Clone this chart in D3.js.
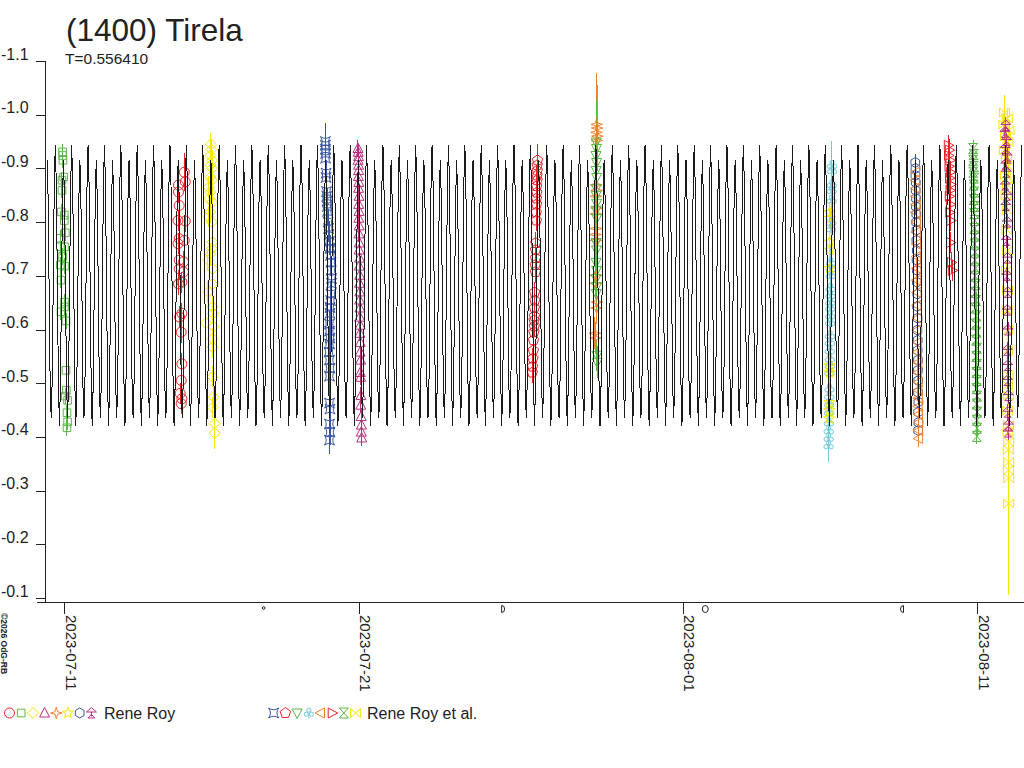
<!DOCTYPE html>
<html>
<head>
<meta charset="utf-8">
<script src="https://cdnjs.cloudflare.com/ajax/libs/d3/7.8.5/d3.min.js"></script>
<style>
body { margin: 0; background: #fff; }
svg { display: block; font-family: "Liberation Sans", Arial, sans-serif; }
</style>
</head>
<body>
<svg id="chart" width="1024" height="768"></svg>
<script>
'use strict'

const title = '(1400) Tirela'
const period = 0.556410            // days
const epoch = '2023-07-10T16:40Z'  // a brighter maximum of the fit
const curveStart = '2023-07-10T09:20Z'
const curveEnd = '2023-08-12T13:00Z'
// the fitted lightcurve over one rotation, 16 steps
const lcMag = [-0.944, -0.869, -0.689, -0.507, -0.420, -0.495, -0.668, -0.843,
               -0.915, -0.843, -0.668, -0.495, -0.435, -0.507, -0.689, -0.869]

const yTicks = [-1.1, -1.0, -0.9, -0.8, -0.7, -0.6, -0.5, -0.4, -0.3, -0.2, -0.1]
const xTicks = ['2023-07-11', '2023-07-21', '2023-08-01', '2023-08-11']
const moonDates = ['2023-07-17T18:32Z', '2023-07-25T22:07Z', '2023-08-01T18:31Z', '2023-08-08T10:28Z']
const moonPhases = ['new', 'first', 'full', 'last']
const observers = ['Rene Roy', 'Rene Roy et al.']

// [hours after session start, magnitude, (error)]
const n0710 = [[2.1,-0.931],[2.1,-0.924],[2.4,-0.915],[2.9,-0.884],[1.6,-0.878],[1.6,-0.859],[1.1,-0.819],[3.5,-0.813],[3.5,-0.803],[4.3,-0.780],[0.2,-0.770],[3.7,-0.754],[0.2,-0.754],[2.1,-0.736],[0.2,-0.720],[3.7,-0.718],[0.8,-0.692],[3.7,-0.651],[3.7,-0.642],[0.8,-0.633],[4.9,-0.616],[4.9,-0.524],[5.1,-0.487],[4.3,-0.476],[6.2,-0.468],[5.7,-0.445],[6.2,-0.428],[5.7,-0.417]]
const n0714 = [[5.8,-0.893,0.035],[6.6,-0.875],[1.1,-0.869],[1.1,-0.856],[1.7,-0.831],[0.7,-0.803],[6.6,-0.802],[1.7,-0.769],[5.8,-0.766],[0.7,-0.760],[1.7,-0.729],[5.2,-0.726],[1.7,-0.713],[5.2,-0.707],[3.9,-0.688],[1.1,-0.685],[3.9,-0.630],[2.0,-0.623],[3.3,-0.595],[3.9,-0.536],[3.3,-0.505],[2.5,-0.481],[3.9,-0.471],[3.3,-0.462]]
const n0715 = [[4.5,-0.945],[4.8,-0.935],[4.0,-0.924],[5.4,-0.915],[4.0,-0.906],[5.4,-0.900],[4.0,-0.884],[5.4,-0.878],[2.6,-0.865],[4.0,-0.856],[3.2,-0.844],[5.4,-0.837],[4.0,-0.819],[2.6,-0.810],[5.4,-0.800],[5.9,-0.763],[5.4,-0.751],[4.0,-0.741],[2.1,-0.729],[5.9,-0.713],[5.9,-0.685],[2.1,-0.670],[5.9,-0.642],[6.2,-0.630],[0.5,-0.612],[6.7,-0.605],[5.9,-0.583],[5.9,-0.567],[5.9,-0.512],[6.7,-0.474],[5.9,-0.455],[7.5,-0.425],[7.5,-0.407,0.03]]
const n0719 = [[0.8,-0.950,0.035],[0.8,-0.943],[0.9,-0.936],[1.0,-0.928],[1.0,-0.919],[1.4,-0.891],[1.4,-0.883],[1.8,-0.857],[2.0,-0.848],[2.2,-0.839],[2.4,-0.829],[2.6,-0.820],[3.0,-0.800],[3.4,-0.788],[3.8,-0.777],[4.2,-0.764],[4.6,-0.751],[5.0,-0.738],[5.4,-0.725],[5.6,-0.710],[5.8,-0.695],[5.8,-0.686],[5.4,-0.666],[5.0,-0.654],[4.6,-0.641],[4.6,-0.630],[4.2,-0.610],[4.2,-0.597],[4.6,-0.584],[4.2,-0.573],[3.8,-0.558],[4.2,-0.543],[4.6,-0.528],[4.2,-0.513],[4.2,-0.463],[4.6,-0.452],[4.2,-0.424],[4.6,-0.409],[4.2,-0.394]]
const n0720 = [[2.4,-0.937],[2.6,-0.930],[2.8,-0.922],[2.5,-0.915],[2.9,-0.906],[3.0,-0.896],[2.7,-0.885],[3.1,-0.874],[2.9,-0.863],[3.2,-0.848],[3.0,-0.833],[3.3,-0.820],[3.1,-0.807],[3.4,-0.793],[3.2,-0.778],[3.5,-0.761],[3.3,-0.748],[3.7,-0.733],[3.5,-0.718],[3.8,-0.701],[3.6,-0.686],[3.9,-0.670],[3.7,-0.655],[4.0,-0.640],[3.8,-0.623],[4.1,-0.608],[4.0,-0.593],[4.3,-0.576],[4.2,-0.558],[4.5,-0.543],[4.4,-0.520],[4.6,-0.511],[4.8,-0.477],[4.7,-0.459],[5.0,-0.438],[5.2,-0.422],[5.1,-0.409],[5.4,-0.398]]
const n0726 = [[5.2,-0.915,0.03],[5.0,-0.906],[5.1,-0.896],[4.8,-0.887],[4.9,-0.878],[4.6,-0.867],[4.7,-0.855],[4.4,-0.844],[4.5,-0.833],[4.2,-0.818],[4.3,-0.803],[3.8,-0.761],[3.6,-0.748],[3.7,-0.733],[3.4,-0.720],[3.5,-0.707],[2.9,-0.669],[3.0,-0.654],[2.7,-0.640],[2.8,-0.625],[2.5,-0.617],[2.6,-0.606],[2.3,-0.595],[2.0,-0.580],[1.8,-0.561],[1.5,-0.546],[1.2,-0.531],[1.0,-0.520]]
const n0728a = [[3.0,-0.982,0.095],[3.4,-0.975,0.08],[2.8,-0.967,0.06],[3.6,-0.960,0.05],[3.2,-0.952,0.04],[2.6,-0.869],[3.0,-0.859],[2.4,-0.848],[2.8,-0.826],[2.2,-0.815],[2.6,-0.788],[2.0,-0.777],[2.4,-0.766],[2.2,-0.701],[1.8,-0.686],[3.2,-0.651],[2.8,-0.640],[1.6,-0.593],[2.0,-0.584]]
const n0728b = [[2.6,-0.949,0.08],[2.8,-0.937],[2.4,-0.924],[2.9,-0.911],[2.6,-0.896],[3.0,-0.883],[2.7,-0.863],[2.5,-0.850],[2.9,-0.835],[2.6,-0.822],[3.0,-0.807],[2.4,-0.762],[2.8,-0.748],[2.5,-0.725],[2.9,-0.710],[2.6,-0.695],[3.0,-0.680],[2.7,-0.667],[3.2,-0.552],[3.4,-0.539]]
const n0805a = [[4.8,-0.906,0.045],[4.7,-0.896],[4.6,-0.870],[4.5,-0.859],[4.4,-0.841],[4.2,-0.800],[4.1,-0.788],[3.9,-0.725],[3.8,-0.714],[3.8,-0.701],[3.7,-0.677],[3.6,-0.664],[3.5,-0.651],[3.5,-0.640],[3.4,-0.626],[3.3,-0.613],[3.2,-0.589],[3.1,-0.576],[3.0,-0.561],[3.0,-0.546],[2.9,-0.533],[2.8,-0.520],[2.7,-0.490],[2.6,-0.476],[2.5,-0.461],[2.4,-0.446],[2.3,-0.427],[2.2,-0.412],[2.1,-0.398],[2.0,-0.384,0.03]]
const n0805b = [[3.0,-0.818],[3.2,-0.807],[2.9,-0.763],[3.1,-0.748],[3.0,-0.714],[2.8,-0.533],[2.9,-0.520],[2.6,-0.464],[2.7,-0.449],[2.5,-0.434]]
const n0808a = [[1.7,-0.911],[1.9,-0.900],[1.8,-0.887],[2.1,-0.874],[2.0,-0.859],[2.3,-0.844],[2.2,-0.829],[2.5,-0.815],[2.4,-0.800],[2.7,-0.785],[2.6,-0.766],[2.9,-0.747],[2.8,-0.729],[3.1,-0.710],[3.0,-0.688],[3.3,-0.666],[3.2,-0.643],[3.5,-0.621],[3.4,-0.599],[3.7,-0.580],[3.6,-0.561],[3.9,-0.543],[3.8,-0.524],[4.1,-0.505],[3.9,-0.483],[4.2,-0.465],[4.0,-0.446],[4.3,-0.427],[4.1,-0.412]]
const n0808b = [[2.0,-0.893],[1.9,-0.878],[2.2,-0.863],[2.1,-0.848],[2.4,-0.833],[2.3,-0.818],[2.6,-0.800],[2.5,-0.781],[2.8,-0.759],[2.7,-0.736],[3.0,-0.714],[2.9,-0.692],[3.2,-0.669],[3.1,-0.645],[3.4,-0.621],[3.3,-0.599],[3.6,-0.576],[3.5,-0.558],[3.8,-0.539],[3.7,-0.520],[4.0,-0.502],[3.9,-0.487],[4.2,-0.472],[4.1,-0.457],[4.4,-0.442],[4.3,-0.427],[4.5,-0.412],[4.4,-0.397]]
const n0809 = [[1.6,-0.943],[2.4,-0.934],[1.8,-0.924],[2.9,-0.915],[2.2,-0.904],[3.3,-0.893],[2.6,-0.882],[3.7,-0.870],[3.0,-0.859],[2.4,-0.848],[3.3,-0.833],[2.8,-0.818],[3.7,-0.803],[3.5,-0.762],[4.1,-0.725],[4.9,-0.710]]
const n0810 = [[1.8,-0.937],[2.2,-0.926],[1.9,-0.915],[2.4,-0.904],[2.0,-0.893],[2.6,-0.882],[2.2,-0.869],[2.8,-0.856],[2.4,-0.842],[3.0,-0.829],[2.6,-0.816],[3.2,-0.803],[2.8,-0.788],[3.4,-0.774],[3.0,-0.759],[3.6,-0.744],[3.2,-0.729],[3.8,-0.714],[3.4,-0.699],[4.0,-0.684],[3.6,-0.669],[4.2,-0.654],[3.8,-0.640],[4.4,-0.625],[4.0,-0.610],[4.6,-0.595],[4.2,-0.580],[4.8,-0.565],[4.4,-0.550],[4.9,-0.535],[4.5,-0.520],[5.0,-0.505],[4.6,-0.490],[5.1,-0.476],[4.7,-0.461],[5.2,-0.446],[4.8,-0.431],[5.0,-0.416],[4.9,-0.401]]
const n0811a = [[2.0,-1.004,0.032],[4.2,-0.993],[1.4,-0.982],[5.6,-0.971],[2.8,-0.960],[4.8,-0.949],[1.8,-0.934],[3.6,-0.919],[5.2,-0.904],[2.6,-0.887],[4.4,-0.869],[3.2,-0.850],[4.6,-0.822],[3.8,-0.785],[4.2,-0.747],[3.6,-0.710],[4.4,-0.673],[4.0,-0.636],[4.6,-0.599],[4.2,-0.561],[4.8,-0.515],[4.4,-0.496],[5.0,-0.477],[4.6,-0.449],[5.2,-0.422],[4.8,-0.409],[5.3,-0.391,0.03],[5.0,-0.376,0.04],[5.3,-0.353,0.05],[5.1,-0.338,0.09],[5.3,-0.323,0.11],[5.3,-0.276,0.17]]
const n0811b = [[3.0,-0.980],[2.2,-0.967],[3.6,-0.952],[2.6,-0.937],[4.0,-0.923],[3.0,-0.908],[3.4,-0.893],[2.6,-0.869],[3.8,-0.850],[3.0,-0.831],[4.2,-0.800],[3.4,-0.766],[4.4,-0.733],[3.8,-0.701],[4.6,-0.669],[4.0,-0.636],[4.8,-0.599],[4.2,-0.561],[4.6,-0.533],[4.4,-0.505],[5.0,-0.477],[4.6,-0.446],[5.2,-0.422],[4.8,-0.409]]

// obs = observer (legend group), k = marker within the group
const sessions = [
	{ start: '2023-07-10T20:30Z', obs: 0, k: 1, err: 0.015, pts: n0710 },
	{ start: '2023-07-14T20:00Z', obs: 0, k: 0, err: 0.02, pts: n0714 },
	{ start: '2023-07-15T19:00Z', obs: 0, k: 2, err: 0.02, pts: n0715 },
	{ start: '2023-07-19T20:00Z', obs: 1, k: 0, err: 0.025, pts: n0719 },
	{ start: '2023-07-20T21:00Z', obs: 0, k: 3, err: 0.015, pts: n0720 },
	{ start: '2023-07-26T20:30Z', obs: 1, k: 1, err: 0.02, pts: n0726 },
	{ start: '2023-07-28T23:00Z', obs: 0, k: 4, err: 0.03, pts: n0728a },
	{ start: '2023-07-28T23:00Z', obs: 1, k: 2, err: 0.03, pts: n0728b },
	{ start: '2023-08-05T21:00Z', obs: 1, k: 3, err: 0.03, pts: n0805a },
	{ start: '2023-08-05T21:00Z', obs: 0, k: 5, err: 0.02, pts: n0805b },
	{ start: '2023-08-08T20:00Z', obs: 0, k: 6, err: 0.015, pts: n0808a },
	{ start: '2023-08-08T20:00Z', obs: 1, k: 4, err: 0.015, pts: n0808b },
	{ start: '2023-08-09T23:00Z', obs: 1, k: 5, err: 0.02, pts: n0809 },
	{ start: '2023-08-10T19:00Z', obs: 1, k: 6, err: 0.015, pts: n0810 },
	{ start: '2023-08-11T20:30Z', obs: 1, k: 7, err: 0.02, pts: n0811a },
	{ start: '2023-08-11T20:30Z', obs: 0, k: 7, err: 0.015, pts: n0811b }
]

// ---- styles ----
const RED = '#ec2027', GREEN = '#5ab847', YELLOW = '#f7e600', PURPLE = '#b8307f',
	ORANGE = '#f5822a', BLUE = '#3a56a5', CYAN = '#6fcadb', INK = '#222'

const markerStyles = [
	[['circle', RED], ['square', GREEN], ['diamond', YELLOW], ['triUp', PURPLE],
	 ['star4', ORANGE], ['star5', YELLOW], ['hexagon', BLUE], ['trefoil', PURPLE]],
	[['astroid', BLUE], ['pentagon', RED], ['triDown', GREEN], ['clover', CYAN],
	 ['triLeft', ORANGE], ['triRight', RED], ['hourglass', GREEN], ['bowtie', YELLOW]]
]

function poly(p) {
	return 'M' + p.map(d => d[0].toFixed(2) + ',' + d[1].toFixed(2)).join('L') + 'Z'
}
function regular(n, r, inner) {
	const p = []
	const m = inner ? n * 2 : n
	for (let i = 0; i < m; ++i) {
		const a = -Math.PI / 2 + i * 2 * Math.PI / m
		const rr = inner && i % 2 ? inner : r
		p.push([rr * Math.cos(a), rr * Math.sin(a)])
	}
	return poly(p)
}
function circ(cx, cy, r) {
	return `M${cx + r},${cy}A${r},${r} 0 1,1 ${cx - r},${cy}A${r},${r} 0 1,1 ${cx + r},${cy}Z`
}

const shapes = {
	circle: circ(0, 0, 5),
	square: 'M-3.8,-3.8h7.6v7.6h-7.6Z',
	diamond: poly([[0, -5.5], [5.5, 0], [0, 5.5], [-5.5, 0]]),
	triUp: poly([[0, -5.5], [5, 4], [-5, 4]]),
	triDown: poly([[0, 5.5], [5, -4], [-5, -4]]),
	triLeft: poly([[-5.5, 0], [4, -5], [4, 5]]),
	triRight: poly([[5.5, 0], [-4, -5], [-4, 5]]),
	star4: regular(4, 5.8, 1.8),
	star5: regular(5, 5.8, 2.4),
	hexagon: regular(6, 5),
	pentagon: regular(5, 5.5),
	trefoil: poly([[0, -5.5], [5, -1], [-5, -1]]) + 'M0,-1V3.5' + poly([[0, 1.5], [3.5, 5], [-3.5, 5]]),
	astroid: 'M-5,-5Q0,-1.5 5,-5Q1.5,0 5,5Q0,1.5 -5,5Q-1.5,0 -5,-5Z',
	clover: circ(0, -2.8, 2.1) + circ(-2.6, 1.2, 2.1) + circ(2.6, 1.2, 2.1) + 'M0,1V5.5',
	hourglass: 'M-4.5,-5L4.5,-5L-4.5,5L4.5,5Z',
	bowtie: 'M-5,-4.5L5,4.5L5,-4.5L-5,4.5Z'
}

// ---- scales ----
const svg = d3.select('#chart')
const parse = s => new Date(s)

const x = d3.scaleUtc()
	.domain([parse(xTicks[0]), parse(xTicks[3])])
	.range([64.3, 977])
x.domain([x.invert(36), x.invert(1024)]).range([36, 1024])

const y = d3.scaleLinear().domain([-1.1, -0.1]).range([61, 598])
const AXIS_Y = 602, AXIS_X = 45

// ---- observations ----
const obsG = svg.append('g')
const allPts = []
sessions.forEach(s => {
	const t0 = +parse(s.start)
	const st = markerStyles[s.obs][s.k]
	s.pts.forEach(p => allPts.push({
		t: new Date(t0 + p[0] * 3600e3), m: p[1], e: p[2] || s.err, shape: st[0], color: st[1]
	}))
})

obsG.selectAll('line.err')
	.data(allPts)
	.enter().append('line')
	.attr('class', 'err')
	.attr('x1', d => x(d.t)).attr('x2', d => x(d.t))
	.attr('y1', d => y(d.m - d.e)).attr('y2', d => y(d.m + d.e))
	.attr('stroke', d => d.color)
	.attr('stroke-width', 1)
	.attr('shape-rendering', 'crispEdges')

obsG.selectAll('path.pt')
	.data(allPts)
	.enter().append('path')
	.attr('class', 'pt')
	.attr('d', d => shapes[d.shape])
	.attr('transform', d => 'translate(' + x(d.t).toFixed(1) + ',' + y(d.m).toFixed(1) + ')')
	.attr('fill', 'none')
	.attr('stroke', d => d.color)
	.attr('stroke-width', 1)

// ---- fitted curve ----
const step = period / lcMag.length * 864e5
const tE = +parse(epoch)
const n0 = Math.ceil((+parse(curveStart) - tE) / step)
const n1 = Math.floor((+parse(curveEnd) - tE) / step)
const curve = []
for (let n = n0; n <= n1; ++n)
	curve.push({ t: new Date(tE + n * step), m: lcMag[((n % lcMag.length) + lcMag.length) % lcMag.length] })

svg.append('path')
	.datum(curve)
	.attr('fill', 'none')
	.attr('stroke', '#1b1b1b')
	.attr('stroke-width', 1)
	.attr('shape-rendering', 'crispEdges')
	.attr('d', d3.line().x(d => x(d.t)).y(d => y(d.m)))

// ---- axes ----
const yAxis = svg.append('g')
	.attr('transform', 'translate(' + AXIS_X + ',0)')
	.style('color', INK)
	.attr('shape-rendering', 'crispEdges')
	.call(d3.axisLeft(y).tickValues(yTicks).tickSize(9).tickSizeOuter(0).tickFormat(d => d.toFixed(1)))
yAxis.select('.domain').remove()
yAxis.selectAll('text')
	.attr('x', -44).attr('y', -2).attr('dy', 0)
	.style('text-anchor', 'start')
	.style('font-size', '16px')
	.style('font-family', '"Liberation Sans", Arial, sans-serif')
	.attr('fill', INK)
svg.append('line')
	.attr('x1', AXIS_X).attr('x2', AXIS_X)
	.attr('y1', y(yTicks[0])).attr('y2', AXIS_Y)
	.attr('stroke', INK).attr('shape-rendering', 'crispEdges')

const xAxis = svg.append('g')
	.attr('transform', 'translate(0,' + AXIS_Y + ')')
	.style('color', INK)
	.attr('shape-rendering', 'crispEdges')
	.call(d3.axisBottom(x).tickValues(xTicks.map(parse)).tickSize(12).tickSizeOuter(0)
		.tickFormat(d3.utcFormat('%Y-%m-%d')))
xAxis.selectAll('text')
	.attr('x', 13).attr('y', -1).attr('dy', 0)
	.attr('transform', 'rotate(90)')
	.style('text-anchor', 'start')
	.style('font-size', '15px')
	.style('font-family', '"Liberation Sans", Arial, sans-serif')
	.attr('fill', INK)

// moon phases just under the axis
const moonG = svg.append('g').attr('fill', 'none').attr('stroke', INK).attr('stroke-width', 1)
moonDates.forEach((d, i) => {
	const cx = x(parse(d)), cy = AXIS_Y + 7
	const ph = moonPhases[i]
	if (ph === 'new')
		moonG.append('circle').attr('cx', cx).attr('cy', cy - 1).attr('r', 1.3)
	else if (ph === 'full')
		moonG.append('ellipse').attr('cx', cx).attr('cy', cy).attr('rx', 3).attr('ry', 3.5)
	else {
		const s = ph === 'first' ? 1 : -1
		moonG.append('path')
			.attr('d', `M${cx - 2 * s},${cy - 3.5}V${cy + 3.5}A${3},${3.5} 0 0,${s > 0 ? 0 : 1} ${cx - 2 * s},${cy - 3.5}Z`)
	}
})

// ---- texts ----
svg.append('text')
	.attr('x', 66).attr('y', 41)
	.style('font-size', '31.5px')
	.attr('fill', INK)
	.text(title)

svg.append('text')
	.attr('x', 65).attr('y', 64)
	.style('font-size', '15.5px')
	.attr('fill', INK)
	.text('T=' + period.toFixed(6))

svg.append('text')
	.attr('transform', 'translate(1,613) rotate(90)')
	.style('font-size', '8.5px')
	.style('font-weight', 'bold')
	.attr('fill', INK)
	.text('\u00a92026 OdG-RB')

// ---- legend ----
const legendX = [9.5, 273.7]
const legendTextX = [104, 367]
observers.forEach((name, g) => {
	const lg = svg.append('g')
	markerStyles[g].forEach((st, i) => {
		lg.append('path')
			.attr('d', shapes[st[0]])
			.attr('transform', 'translate(' + (legendX[g] + i * 11.7) + ',713)')
			.attr('fill', 'none')
			.attr('stroke', st[1])
	})
	lg.append('text')
		.attr('x', legendTextX[g]).attr('y', 719)
		.style('font-size', '16px')
		.attr('fill', INK)
		.text(name)
})
</script>
</body>
</html>
